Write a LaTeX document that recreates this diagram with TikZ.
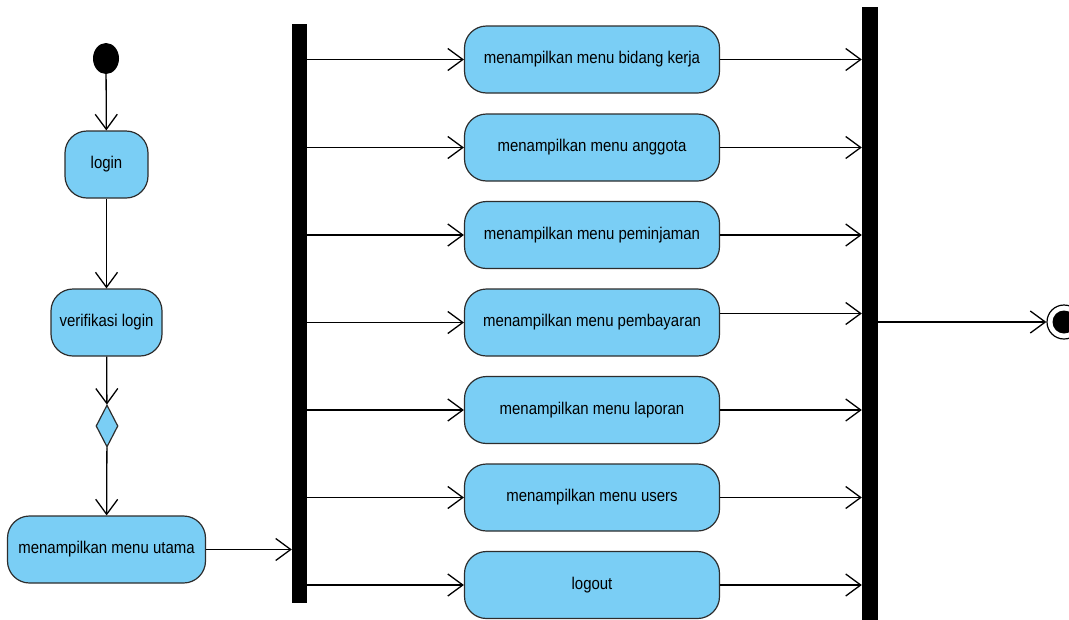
\documentclass[tikz,border=0pt]{standalone}
\usepackage{fontspec}
\newfontfamily\umlfont[FakeStretch=0.88]{Liberation Sans}
\usetikzlibrary{shapes.geometric, arrows.meta, positioning}
\definecolor{actblue}{RGB}{122,206,245}
\definecolor{actline}{RGB}{45,45,45}
\tikzstyle{line} = [draw, -{Straight Barb[length=15pt,width=22pt]}, line width=1.3pt]
\tikzstyle{action} = [rectangle, draw=actline, fill=actblue, line width=1.2pt,
  rounded corners=22pt, minimum height=67pt, text centered, inner sep=0pt,
  font=\umlfont\fontsize{17}{20}\selectfont]
\tikzstyle{menu} = [action, minimum width=255pt]
\tikzstyle{bar} = [rectangle, fill=black, minimum width=15pt, inner sep=0pt]
\tikzstyle{decision} = [diamond, draw=actline, fill=actblue, line width=1.2pt,
  minimum width=22pt, minimum height=42pt, inner sep=0pt]

\begin{document}
\begin{tikzpicture}[x=1pt, y=-1pt]
    \useasboundingbox (0,0) rectangle (1069,619);

    \node [ellipse, fill=black, minimum width=26pt, minimum height=31pt, inner sep=0pt] (init) at (106,58.5) {};
    \node [action, minimum width=83pt] (login) at (106.5,164.5) {login};
    \node [action, minimum width=111pt] (verif) at (106.5,322.5) {verifikasi login};
    \node [decision] (check) at (107,426) {};
    \node [action, minimum width=198pt] (utama) at (106.5,549.5) {menampilkan menu utama};

    \node [bar, minimum height=579pt] (fork) at (299.5,313.5) {};

    \node [menu] (bidang) at (592,59.5) {menampilkan menu bidang kerja};
    \node [menu] (anggota) at (592,147.5) {menampilkan menu anggota};
    \node [menu] (pinjam) at (592,235) {menampilkan menu peminjaman};
    \node [menu] (bayar) at (592,322.5) {menampilkan menu pembayaran};
    \node [menu] (laporan) at (592,410) {menampilkan menu laporan};
    \node [menu] (users) at (592,497.5) {menampilkan menu users};
    \node [menu] (logout) at (592,585) {logout};

    \node [bar, minimum width=16pt, minimum height=614pt] (join) at (870,314) {};

    \node [circle, draw, line width=1.2pt, minimum size=34pt, inner sep=0pt] (final) at (1064,322) {};
    \node [circle, fill=black, minimum size=23pt, inner sep=0pt] (finaldot) at (final) {};

    \path [line] (init) -- (login);
    \path [line] (login) -- (verif);
    \path [line] (verif) -- (check);
    \path [line] (check) -- (utama);
    \path [line] (utama.east) -- (utama.east -| fork.west);

    \foreach \act in {bidang, anggota, pinjam, bayar, laporan, users, logout}
      \path [line] (fork.east |- \act.west) -- (\act.west);
    \foreach \act in {bidang, anggota, pinjam, laporan, users, logout}
      \path [line] (\act.east) -- (\act.east -| join.west);
    \path [line] ([yshift=9pt]bayar.east) -- ([yshift=9pt]bayar.east -| join.west);

    \path [line] (join.east |- final.west) -- (final.west);

  \end{tikzpicture}
\end{document}
